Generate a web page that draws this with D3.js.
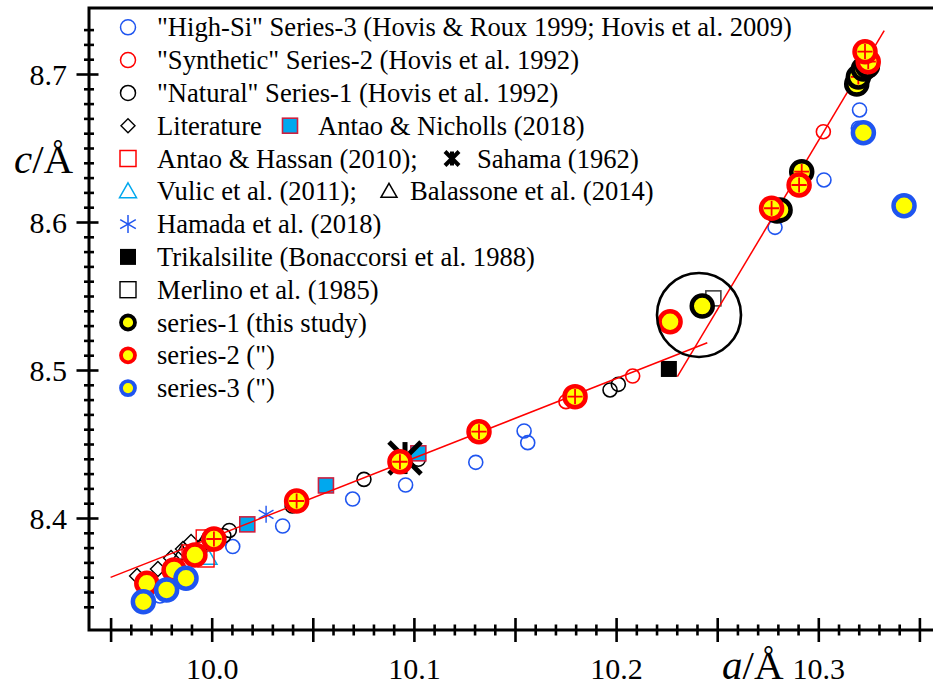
<!DOCTYPE html>
<html><head><meta charset="utf-8">
<script src="https://cdn.jsdelivr.net/npm/d3@7"></script>
<style>
html,body{margin:0;padding:0;background:#fff;}
svg{display:block;font-family:"Liberation Serif","Times New Roman",serif;}
</style></head><body>
<svg id="chart" width="933" height="691"></svg>
<script>
// Lattice parameters [a (Å), c (Å)]
const highSi = [[9.9744,8.3473],[10.0104,8.3807],[10.0351,8.3946],[10.0697,8.4128],[10.0959,8.4223],
  [10.1306,8.4376],[10.1545,8.4588],[10.1563,8.4509],[10.2786,8.5964],[10.3028,8.6284],
  [10.3198,8.6633],[10.3204,8.6757]];
const synthetic = [[10.1752,8.4786],[10.2082,8.4959],[10.3025,8.6610]];
const natural = [[10.0087,8.3916],[10.0060,8.3880],[10.0398,8.4081],[10.0753,8.4261],[10.1022,8.4397],
  [10.1970,8.4865],[10.2011,8.4903]];
const literature = [[9.9631,8.3608],[9.9734,8.3655],[9.9799,8.3730],[9.9858,8.3791],[9.9898,8.3838],[9.9942,8.3804]];
const antaoNicholls = [[10.0176,8.3957],[10.0565,8.4220],[10.1022,8.4437]];
const antaoHassan = [[9.9963,8.3865],[10.0008,8.3865],[9.9893,8.3764],[9.9972,8.3723]];
const sahama = [[10.0956,8.4405]];
const vulic = [[9.9984,8.3730]];
const balassone = [[9.9853,8.3764],[9.9957,8.3831]];
const hamada = [[10.0269,8.4025]];
const trikalsilite = [[10.2261,8.5007]];
const merlino = [[10.2481,8.5484]];
// [a, c, crosshair]
const series1 = [[10.2426,8.5432,0],[10.2796,8.6074,0],[10.2811,8.6081,0],[10.2918,8.6340,1],
  [10.3190,8.6932,0],[10.3198,8.6980,1],[10.3223,8.7034,0],[10.3243,8.7054,0]];
const series2 = [[9.9679,8.3559,0],[9.9814,8.3649,0],[9.9917,8.3750,0],[10.0011,8.3858,1],
  [10.0420,8.4115,1],[10.0931,8.4380,1],[10.1322,8.4583,1],[10.1797,8.4820,1],
  [10.2267,8.5326,0],[10.2769,8.6093,1],[10.2905,8.6250,1],[10.3247,8.7083,1],[10.3231,8.7151,1]];
const series3 = [[9.9662,8.3434],[9.9777,8.3514],[9.9873,8.3593],[10.3223,8.6603],[10.3424,8.6110]];
// linear fits, low-a and high-a branches
const fitLow = [[9.9500,8.3599],[10.2451,8.5184]];
const fitHigh = [[10.2303,8.4955],[10.3326,8.7293]];
// highlighted region
const highlight = [10.2410, 8.5372];

const xTickLabels = ["10.0","10.1","10.2","10.3"];
const yTickLabels = ["8.4","8.5","8.6","8.7"];

const legendRows = [
  '"High-Si" Series-3 (Hovis & Roux 1999; Hovis et al. 2009)',
  '"Synthetic" Series-2 (Hovis et al. 1992)',
  '"Natural" Series-1 (Hovis et al. 1992)',
  'Literature',
  'Antao & Hassan (2010);',
  'Vulic et al. (2011);',
  'Hamada et al. (2018)',
  'Trikalsilite (Bonaccorsi et al. 1988)',
  'Merlino et al. (1985)',
  'series-1 (this study)',
  'series-2 (")',
  'series-3 (")'
];

const BLUE = "#1f55f0", RED = "#ff0000", CYAN = "#00a8ee", YEL = "#ffff00";

const svg = d3.select("#chart");
const frame = {left: 89, top: 8, right: 933, bottom: 630};
const x = d3.scaleLinear().domain([10.0, 10.3]).range([211.7, 818.3]);
const y = d3.scaleLinear().domain([8.4, 8.7]).range([518, 74]);

// ---- symbol painters ----
function openCircle(g, px, py, col, r = 7, sw = 1.6) {
  g.append("circle").attr("cx", px).attr("cy", py).attr("r", r)
    .attr("fill", "none").attr("stroke", col).attr("stroke-width", sw);
}
function square(g, px, py, s, fill, stroke, sw = 1.5) {
  g.append("rect").attr("x", px - s / 2).attr("y", py - s / 2).attr("width", s).attr("height", s)
    .attr("fill", fill).attr("stroke", stroke).attr("stroke-width", sw);
}
function diamond(g, px, py, h = 7.5) {
  g.append("path").attr("d", `M${px},${py - h}L${px + h},${py}L${px},${py + h}L${px - h},${py}Z`)
    .attr("fill", "none").attr("stroke", "#000").attr("stroke-width", 1.4);
}
function triangle(g, px, py, col, h = 8.5) {
  g.append("path").attr("d", `M${px},${py - h}L${px + h},${py + h * 0.75}L${px - h},${py + h * 0.75}Z`)
    .attr("fill", "none").attr("stroke", col).attr("stroke-width", 1.5);
}
function asterisk(g, px, py, col, h, sw, diag) {
  const p = diag ? [[0, -h, 0, h], [-h, -h, h, h], [h, -h, -h, h]]
                 : [[0, -h, 0, h], [-h * 0.87, -h * 0.5, h * 0.87, h * 0.5], [h * 0.87, -h * 0.5, -h * 0.87, h * 0.5]];
  p.forEach(q => g.append("line").attr("x1", px + q[0]).attr("y1", py + q[1]).attr("x2", px + q[2]).attr("y2", py + q[3])
    .attr("stroke", col).attr("stroke-width", sw));
}
function ringDot(g, px, py, col, r, sw, cross) {
  g.append("circle").attr("cx", px).attr("cy", py).attr("r", r)
    .attr("fill", YEL).attr("stroke", col).attr("stroke-width", sw);
  if (cross) {
    const h = r * 0.72;
    g.append("path").attr("d", `M${px - h},${py}H${px + h}M${px},${py - h}V${py + h}`)
      .attr("stroke", RED).attr("stroke-width", 1.8).attr("fill", "none");
  }
}

// ---- axes ----
const axes = svg.append("g");
const xTickVals = d3.range(995, 1036).map(i => i / 100);
const xAxisG = axes.append("g").attr("transform", `translate(0,${frame.bottom})`)
  .call(d3.axisBottom(x).tickValues(xTickVals).tickSize(0)
    .tickFormat(d => { const i = Math.round(d * 100); return i % 10 === 0 ? xTickLabels[(i - 1000) / 10] : ""; }));
xAxisG.attr("font-family", null).attr("font-size", 30);
xAxisG.select(".domain").remove();
xAxisG.selectAll(".tick line")
  .attr("y1", d => Math.round(d * 100) % 5 === 0 ? -12 : -5.5)
  .attr("y2", d => Math.round(d * 100) % 5 === 0 ? 12 : 5.5)
  .attr("stroke", "#000").attr("stroke-width", 2.6);
xAxisG.selectAll(".tick text").attr("y", 49).attr("dy", 0).attr("fill", "#000");

const yTickVals = d3.range(834, 874).map(i => i / 100);
const yAxisG = axes.append("g").attr("transform", `translate(${frame.left},0)`)
  .call(d3.axisLeft(y).tickValues(yTickVals).tickSize(0)
    .tickFormat(d => { const i = Math.round(d * 100); return i % 10 === 0 ? yTickLabels[(i - 840) / 10] : ""; }));
yAxisG.attr("font-family", null).attr("font-size", 30);
yAxisG.select(".domain").remove();
yAxisG.selectAll(".tick line")
  .attr("x1", d => Math.round(d * 100) % 10 === 0 ? -12.5 : -5)
  .attr("x2", d => Math.round(d * 100) % 10 === 0 ? 9.5 : 5)
  .attr("stroke", "#000").attr("stroke-width", 2.6);
yAxisG.selectAll(".tick text").attr("x", -22).attr("dy", "0.34em").attr("fill", "#000");

axes.append("path")
  .attr("d", `M${frame.right},${frame.top}H${frame.left}V${frame.bottom}H${frame.right}`)
  .attr("fill", "none").attr("stroke", "#000").attr("stroke-width", 3);

// axis titles
const cT = svg.append("text").attr("x", 14).attr("y", 173).attr("font-size", 41).attr("fill", "#000");
cT.append("tspan").attr("font-style", "italic").text("c");
cT.append("tspan").text("/Å");
const aT = svg.append("text").attr("x", 722).attr("y", 679).attr("font-size", 41).attr("fill", "#000");
aT.append("tspan").attr("font-style", "italic").text("a");
aT.append("tspan").text("/Å");

// ---- plotted data ----
const plot = svg.append("g");
const P = d => [x(d[0]), y(d[1])];
literature.forEach(d => diamond(plot, ...P(d)));
balassone.forEach(d => triangle(plot, ...P(d), "#000"));
vulic.forEach(d => triangle(plot, ...P(d), CYAN));
antaoHassan.forEach(d => square(plot, ...P(d), 16, "none", RED, 1.4));
highSi.forEach(d => openCircle(plot, ...P(d), BLUE));
synthetic.forEach(d => openCircle(plot, ...P(d), RED));
natural.forEach(d => openCircle(plot, ...P(d), "#000"));
antaoNicholls.forEach(d => square(plot, ...P(d), 15, CYAN, "#cc2040", 1.6));
hamada.forEach(d => asterisk(plot, ...P(d), BLUE, 8.5, 1.4, false));
trikalsilite.forEach(d => square(plot, ...P(d), 16, "#000", "#000", 0));
merlino.forEach(d => square(plot, ...P(d), 15, "none", "#444", 1.6));
sahama.forEach(d => asterisk(plot, ...P(d), "#000", 16, 5, true));

// fit lines
const line = d3.line().x(d => x(d[0])).y(d => y(d[1]));
[fitLow, fitHigh].forEach(f => plot.append("path").attr("d", line(f))
  .attr("fill", "none").attr("stroke", RED).attr("stroke-width", 1.5));

series1.forEach(d => ringDot(plot, ...P(d), "#000", 10.5, 4.5, d[2]));
series2.forEach(d => ringDot(plot, ...P(d), RED, 10.5, 4.5, d[2]));
series3.forEach(d => ringDot(plot, ...P(d), BLUE, 10.5, 4.5, d[2]));

plot.append("circle").attr("cx", x(highlight[0])).attr("cy", y(highlight[1])).attr("r", 42)
  .attr("fill", "none").attr("stroke", "#000").attr("stroke-width", 2.6);

// ---- legend ----
const leg = svg.append("g").attr("font-size", 26.6).attr("fill", "#000");
const rowY = i => 27.3 + i * 32.8;
const mx = 128, tx = 157;
legendRows.forEach((t, i) => leg.append("text").attr("x", tx).attr("y", rowY(i)).attr("dy", "0.34em").text(t));
openCircle(leg, mx, rowY(0), BLUE, 7.5, 1.5);
openCircle(leg, mx, rowY(1), RED, 7.5, 1.5);
openCircle(leg, mx, rowY(2), "#000", 7.5, 1.5);
diamond(leg, mx, rowY(3), 7);
square(leg, 290, rowY(3), 15, CYAN, "#cc2040", 1.6);
leg.append("text").attr("x", 318).attr("y", rowY(3)).attr("dy", "0.34em").text("Antao & Nicholls (2018)");
square(leg, mx, rowY(4), 16, "none", RED, 1.5);
asterisk(leg, 452, rowY(4), "#000", 7, 4, true);
leg.append("text").attr("x", 477).attr("y", rowY(4)).attr("dy", "0.34em").text("Sahama (1962)");
triangle(leg, mx, rowY(5), CYAN, 8.5);
triangle(leg, 389, rowY(5), "#000", 8);
leg.append("text").attr("x", 410).attr("y", rowY(5)).attr("dy", "0.34em").text("Balassone et al. (2014)");
asterisk(leg, mx, rowY(6), BLUE, 9, 1.5, false);
square(leg, mx, rowY(7), 16, "#000", "#000", 0);
square(leg, mx, rowY(8), 16, "none", "#000", 1.4);
ringDot(leg, mx, rowY(9), "#000", 7, 3.8, 0);
ringDot(leg, mx, rowY(10), RED, 7, 3.8, 0);
ringDot(leg, mx, rowY(11), BLUE, 7, 3.8, 0);
</script>
</body></html>
